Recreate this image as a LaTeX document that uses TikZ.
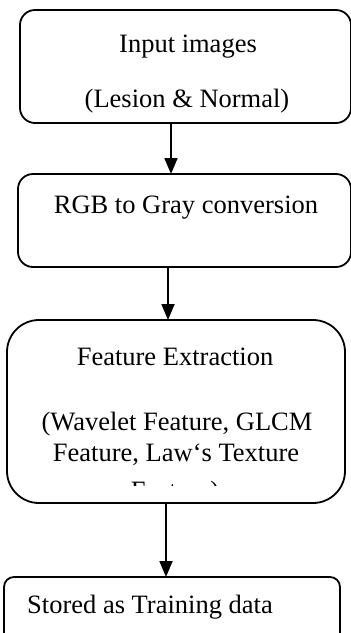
\documentclass[tikz,border=0pt]{standalone}
\usepackage{fontspec}
\setmainfont{Liberation Serif}
\usetikzlibrary{arrows.meta}
\begin{document}
\begin{tikzpicture}[x=1pt,y={(0pt,-1pt)},
  box/.style={draw=black,line width=1.8pt,rectangle,inner sep=0pt,outer sep=0pt},
  lbl/.style={anchor=base,inner sep=0pt,font=\fontsize{26.5}{31}\selectfont},
  conn/.style={line width=1.8pt,-{Triangle[length=16pt,width=13pt]}}]
\useasboundingbox (0,0) rectangle (351,633);
\fill[white] (0,0) rectangle (351,633);
% boxes
\node[box,rounded corners=15pt,minimum width=331pt,minimum height=113pt] (b1) at (185.5,66.5) {};
\node[box,rounded corners=15pt,minimum width=333pt,minimum height=93pt] (b2) at (184.5,220.5) {};
\node[box,rounded corners=32pt,minimum width=338pt,minimum height=183pt] (b3) at (176,411.5) {};
\node[box,rounded corners=10pt,minimum width=336pt,minimum height=84pt] (b4) at (172,619) {};
% texts
\node[lbl] (t1) at (188,52) {Input images};
\node[lbl] (t2) at (187,107) {(Lesion \& Normal)};
\node[lbl] (t3) at (186,213) {RGB to Gray conversion};
\node[lbl] (t4) at (175,365) {Feature Extraction};
\node[lbl] (t5) at (177,430) {(Wavelet Feature, GLCM};
\node[lbl] (t6) at (176,461) {Feature, Law‘s Texture};
\begin{scope}
\clip (0,470) rectangle (351,485.5);
\node[lbl] (t7) at (175,499) {Feature)};
\end{scope}
\node[lbl] (t8) at (150,613) {Stored as Training data};
% connectors
\draw[conn] (b1.south -| 171,0) -- (b2.north -| 171,0);
\draw[conn] (b2.south -| 168,0) -- (b3.north -| 168,0);
\draw[conn] (b3.south -| 166,0) -- (b4.north -| 166,0);
\end{tikzpicture}
\end{document}
